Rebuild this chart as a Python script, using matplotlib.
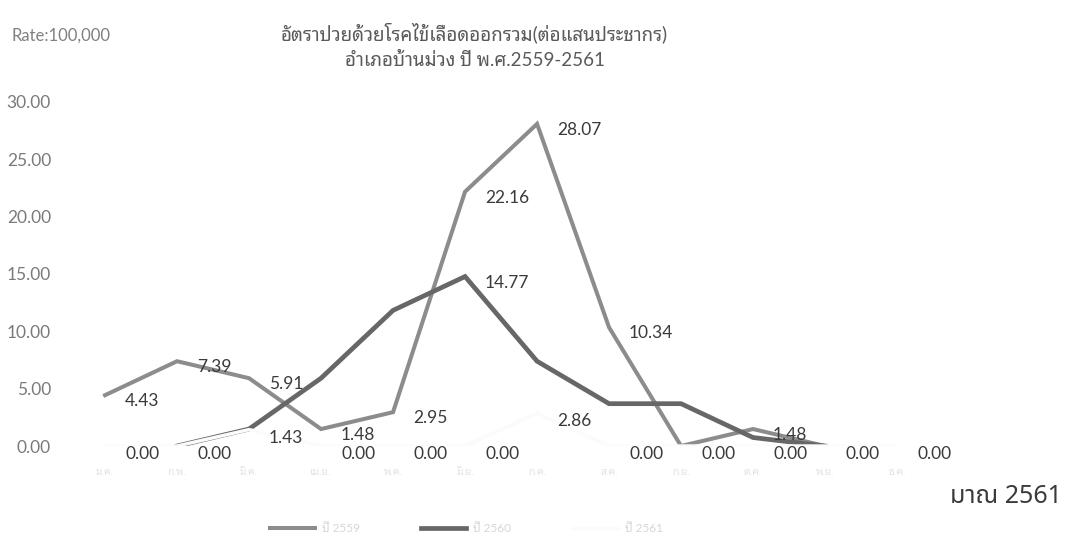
import numpy as np
import matplotlib
matplotlib.use('Agg')
import matplotlib.pyplot as plt

plt.rcParams['font.family'] = ['Lato', 'Noto Sans Thai Looped', 'DejaVu Sans']

# monthly rate per 100,000 population
months = ['ม.ค.', 'ก.พ.', 'มี.ค.', 'เม.ย.', 'พ.ค.', 'มิ.ย.',
          'ก.ค.', 'ส.ค.', 'ก.ย.', 'ต.ค.', 'พ.ย.', 'ธ.ค.']
years = ['ปี 2559', 'ปี 2560', 'ปี 2561']
rate_2559 = [4.43, 7.39, 5.91, 1.48, 2.95, 22.16, 28.07, 10.34, 0.00, 1.48, 0.00, np.nan]
rate_2560 = [np.nan, 0.00, 1.48, 5.91, 11.82, 14.77, 7.39, 3.69, 3.69, 0.74, 0.00, np.nan]
rate_2561 = [0.00, 0.00, 1.43, 0.00, 0.00, 0.00, 2.86, 0.00, 0.00, 0.00, 0.00, 0.00]

x = np.arange(len(months))

fig = plt.figure(figsize=(10.72, 5.43), dpi=100)
ax = fig.add_axes([0.0644, 0.1786, 0.806, 0.634])

l1, = ax.plot(x, rate_2559, color='#8c8c8c', lw=2.9, solid_joinstyle='miter', label=years[0])
l2, = ax.plot(x, rate_2560, color='#676767', lw=3.4, solid_joinstyle='miter', label=years[1])
l3, = ax.plot(x, rate_2561, color='#fbfbfb', lw=2.5, label=years[2])


def label(xi, v, dy=-6):
    ax.annotate('%.2f' % v, (xi, v), xytext=(20, dy), textcoords='offset pixels',
                ha='left', va='center', fontsize=12.5, color='#3a3a3a')


# 2559 labels (zeros sit under the 2561 labels)
for xi, v in zip(x, rate_2559):
    if not np.isnan(v) and v > 0:
        label(xi, v)
label(5, rate_2560[5])
for xi, v in zip(x, rate_2561):
    label(xi, v, dy=-8)

ax.set_xlim(-0.5, 11.5)
ax.set_ylim(0, 30)
ax.set_yticks(np.arange(0, 31, 5))
ax.set_yticklabels(['%.2f' % t for t in np.arange(0, 31, 5)], color='#7a7a7a', fontsize=12.5)
ax.set_xticks(x)
ax.set_xticklabels(months, color='#e2e2e2', fontsize=7.5)
ax.tick_params(axis='both', length=0)
ax.tick_params(axis='y', pad=13)
ax.tick_params(axis='x', pad=16)
for s in ax.spines.values():
    s.set_visible(False)

fig.text(0.011, 0.934, 'Rate:100,000', fontsize=12, color='#808080', va='center')
fig.text(0.442, 0.939, 'อัตราป่วยด้วยโรคไข้เลือดออกรวม(ต่อแสนประชากร)', fontsize=13.5,
         color='#5a5a5a', ha='center', va='center')
fig.text(0.443, 0.889, 'อำเภอบ้านม่วง ปี พ.ศ.2559-2561', fontsize=13.5,
         color='#5a5a5a', ha='center', va='center')
fig.text(0.991, 0.085, 'มาณ 2561', fontsize=18, color='#3a3a3a', ha='right', va='center',
         family=['Noto Sans Thai', 'Lato'])

leg = fig.legend(handles=[l1, l2, l3], loc='center', bbox_to_anchor=(0.435, 0.026), ncol=3,
                 frameon=False, fontsize=8.5, handlelength=3.8, columnspacing=5.2,
                 handletextpad=0.6)
for t in leg.get_texts():
    t.set_color('#d6d6d6')

fig.savefig('out.png', dpi=100)
